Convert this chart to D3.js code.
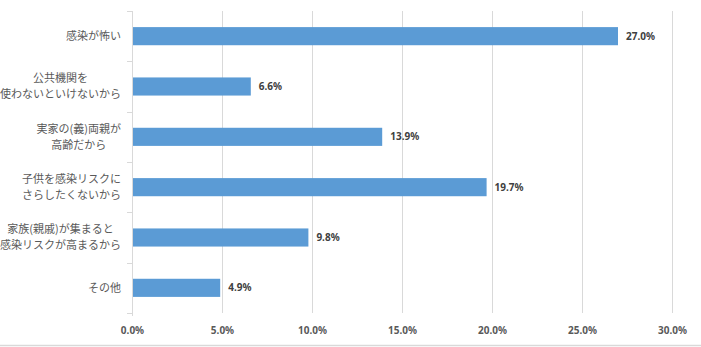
<!DOCTYPE html>
<html><head><meta charset="utf-8">
<script src="https://cdn.jsdelivr.net/npm/d3@7"></script>
<style>
html,body{margin:0;padding:0;background:#fff;}
svg{display:block;}
</style></head>
<body>
<svg id="chart" width="701" height="347"></svg>
<script>
const categories = [
  ["感染が怖い"],
  ["公共機関を","使わないといけないから"],
  ["実家の(義)両親が","高齢だから"],
  ["子供を感染リスクに","さらしたくないから"],
  ["家族(親戚)が集まると","感染リスクが高まるから"],
  ["その他"]
];
const values = [27.0, 6.6, 13.9, 19.7, 9.8, 4.9];
const tickValues = [0, 5, 10, 15, 20, 25, 30];

const svg = d3.select("#chart");
const W = 701, H = 347;
const m = {left: 132, right: 29, top: 11, bottom: 34};
const x = d3.scaleLinear().domain([0, 30]).range([m.left, W - m.right]);
const y = d3.scaleBand().domain(d3.range(categories.length)).range([m.top, H - m.bottom]).paddingInner(0.64).paddingOuter(0.32);
const yb = d3.scaleBand().domain(d3.range(categories.length)).range([m.top, H - m.bottom]);

// bottom border line
svg.append("line").attr("x1", 0).attr("x2", W).attr("y1", H - 1.5).attr("y2", H - 1.5)
  .attr("stroke", "#d9d9d9").attr("stroke-width", 1.5);

// gridlines
svg.append("g").selectAll("line").data(tickValues.slice(1)).join("line")
  .attr("x1", d => Math.round(x(d)) + 0.5).attr("x2", d => Math.round(x(d)) + 0.5)
  .attr("y1", m.top).attr("y2", H - m.bottom)
  .attr("stroke", "#d9d9d9").attr("stroke-width", 1);

// x axis labels
const xa = svg.append("g").attr("transform", `translate(0,${H - m.bottom})`)
  .call(d3.axisBottom(x).tickValues(tickValues).tickFormat(d => d.toFixed(1) + "%").tickSize(0).tickPadding(14));
xa.select(".domain").remove();
xa.selectAll("text").attr("font-family", "'Noto Sans', 'DejaVu Sans', sans-serif")
  .attr("font-size", "10px").attr("font-weight", "bold").attr("fill", "#595959");

// y axis line with tick marks between categories
const ya = svg.append("g");
ya.append("line").attr("x1", m.left + 0.5).attr("x2", m.left + 0.5)
  .attr("y1", m.top).attr("y2", H - m.bottom + 3).attr("stroke", "#d9d9d9");
const bounds = d3.range(categories.length + 1).map(i => i < categories.length ? yb(i) : yb(i - 1) + yb.bandwidth());
ya.selectAll("line.t").data(bounds).join("line").attr("class", "t")
  .attr("x1", m.left - 5).attr("x2", m.left)
  .attr("y1", d => Math.round(d) + 0.5).attr("y2", d => Math.round(d) + 0.5)
  .attr("stroke", "#d9d9d9");

// bars
svg.append("g").selectAll("rect").data(values).join("rect")
  .attr("x", x(0) + 1).attr("y", (d, i) => y(i))
  .attr("width", d => x(d) - x(0) - 1).attr("height", y.bandwidth())
  .attr("fill", "#5b9bd5");

// value labels
svg.append("g").selectAll("text").data(values).join("text")
  .attr("x", d => x(d) + 8).attr("y", (d, i) => y(i) + y.bandwidth() / 2)
  .attr("dy", "0.35em")
  .attr("font-family", "'Noto Sans', 'DejaVu Sans', sans-serif")
  .attr("font-size", "10px").attr("font-weight", "bold").attr("fill", "#404040")
  .text(d => d.toFixed(1) + "%");

// category labels
const labelRight = 121;
const lh = 16;
categories.forEach((lines, i) => {
  const cy = yb(i) + yb.bandwidth() / 2;
  const g = svg.append("g");
  const texts = lines.map((t, j) => g.append("text")
    .attr("font-family", "'Noto Sans CJK JP', sans-serif")
    .attr("font-size", "11px").attr("fill", "#595959")
    .attr("text-anchor", "middle")
    .attr("y", cy + (j - (lines.length - 1) / 2) * lh)
    .attr("dy", "0.35em")
    .text(t));
  const maxW = d3.max(texts, t => t.node().getComputedTextLength());
  texts.forEach(t => t.attr("x", labelRight - maxW / 2));
});
</script>
</body></html>
